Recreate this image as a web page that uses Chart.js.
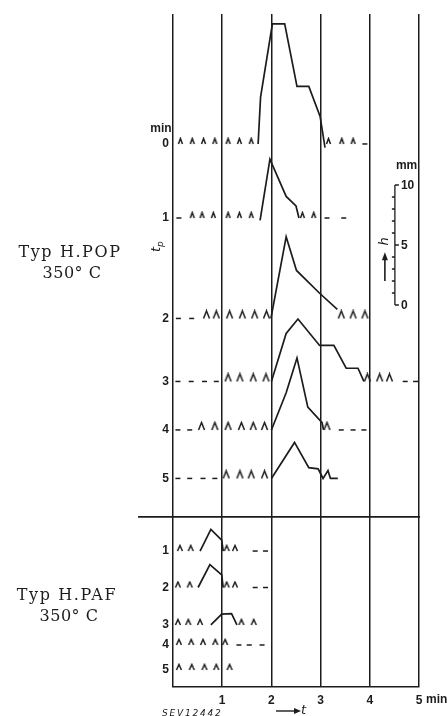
<!DOCTYPE html>
<html>
<head>
<meta charset="utf-8">
<script src="https://cdn.jsdelivr.net/npm/chart.js@4.4.1/dist/chart.umd.min.js"></script>
<style>
  html, body { margin: 0; padding: 0; background: #fff; }
  #wrap { width: 448px; height: 716px; }
</style>
</head>
<body>
<div id="wrap"><canvas id="grafico" width="448" height="716"></canvas></div>
<script>
// eje t (min)
const tTicks = [0, 1, 2, 3, 4, 5];
// escala h (mm)
const hTicks = [0, 5, 10];

// Typ H.POP 350 C, filas t_p = 0..5 min ; curvas [t, h]
const popLabels = ['0', '1', '2', '3', '4', '5'];
const popCurves = [
  [[1.73, 0], [1.78, 3.9], [2.02, 10.0], [2.27, 10.0], [2.52, 4.8], [2.76, 4.8], [2.99, 2.3], [3.09, -0.3]],
  [[1.77, -0.2], [1.97, 4.9], [2.30, 1.8], [2.50, 1.0], [2.56, 0]],
  [[1.99, 0], [2.30, 6.8], [2.51, 4.0], [2.98, 2.1], [3.34, 0.75]],
  [[2.0, 0], [2.30, 4.0], [2.54, 5.2], [2.98, 3.0], [3.27, 3.0], [3.52, 1.1], [3.76, 1.1], [3.88, 0]],
  [[2.0, 0], [2.30, 3.1], [2.52, 6.0], [2.74, 1.9], [3.03, 0.6], [3.06, 0]],
  [[2.0, 0], [2.47, 3.0], [2.76, 0.9], [2.95, 0.8], [3.05, 0], [3.15, 0.65], [3.2, 0], [3.35, 0]]
];
const popCarets = [
  [0.15, 0.39, 0.62, 0.85, 1.12, 1.35, 1.59, 3.16, 3.43, 3.66],
  [0.39, 0.59, 0.82, 1.12, 1.35, 1.59, 2.63, 2.86],
  [0.68, 0.88, 1.15, 1.41, 1.66, 1.90, 3.42, 3.66, 3.90],
  [1.12, 1.36, 1.63, 1.89, 3.95, 4.20, 4.40],
  [0.58, 0.85, 1.12, 1.39, 1.63, 1.86, 3.13],
  [1.08, 1.36, 1.59, 1.86]
];
const popDashes = [
  [3.90],
  [0.12, 3.13, 3.47],
  [0.11, 0.38],
  [0.10, 0.37, 0.64, 0.88, 4.72, 4.93],
  [0.10, 0.34, 3.42, 3.66, 3.88],
  [0.10, 0.34, 0.61, 0.85]
];

// Typ H.PAF 350 C
const pafLabels = ['1', '2', '3', '4', '5'];
const pafCurves = [
  [[0.55, 0], [0.77, 1.8], [0.99, 0.9], [1.02, 0]],
  [[0.51, 0], [0.75, 1.9], [0.99, 1.05], [1.02, 0]],
  [[0.77, 0], [0.99, 0.9], [1.19, 0.95], [1.30, 0]],
  [],
  []
];
const pafCarets = [
  [0.14, 0.36, 1.09, 1.26],
  [0.10, 0.34, 1.09, 1.26],
  [0.10, 0.31, 0.55, 1.39, 1.64],
  [0.12, 0.37, 0.61, 0.86, 1.06],
  [0.12, 0.38, 0.64, 0.88, 1.15]
];
const pafDashes = [
  [1.67, 1.88],
  [1.67, 1.88],
  [],
  [1.34, 1.55, 1.81],
  []
];

// posicion vertical de cada fila (mm desde abajo) - solo maquetacion
const popBase = [45.25, 39.08, 30.71, 25.46, 21.42, 17.38];
const pafBase = [11.33, 8.29, 5.17, 3.5, 1.42];
const separador = 14.17;
const reglaBase = 31.83;
const reglaT = 4.51;
const yMax = 56.08;

const tinta = '#1c1c1c';

function hacerCaret(w, h) {
  const c = document.createElement('canvas');
  c.width = w + 3;
  c.height = 2 * h + 2;
  const g = c.getContext('2d');
  g.strokeStyle = tinta;
  g.lineWidth = 1.5;
  g.beginPath();
  g.moveTo(1.5, h + 1);
  g.lineTo(1.5 + w / 2, 1.5);
  g.lineTo(1.5 + w, h + 1);
  g.stroke();
  return c;
}

const caretChico = hacerCaret(4, 6);
const caretGrande = hacerCaret(6, 8);
const caretPaf = hacerCaret(5, 6);

const datasets = [];

function agregarFila(base, curva, carets, guiones, img) {
  if (curva.length) {
    datasets.push({
      data: curva.map(p => ({ x: p[0], y: base + p[1] })),
      showLine: true, pointRadius: 0, borderColor: tinta, borderWidth: 1.7
    });
  }
  datasets.push({
    data: carets.map(t => ({ x: t, y: base })),
    showLine: false, pointStyle: img, pointRadius: 3
  });
  datasets.push({
    data: guiones.map(t => ({ x: t, y: base })),
    showLine: false, pointStyle: 'line', pointRadius: 2.5,
    borderColor: tinta, borderWidth: 1.5
  });
}

popCurves.forEach((c, i) => agregarFila(popBase[i], c, popCarets[i], popDashes[i], i < 2 ? caretChico : caretGrande));
pafCurves.forEach((c, i) => agregarFila(pafBase[i], c, pafCarets[i], pafDashes[i], caretPaf));

const yBases = [...popBase, ...pafBase];
const yLabels = [...popLabels, ...pafLabels];

const anotaciones = {
  id: 'anotaciones',
  afterDraw(chart) {
    const ctx = chart.ctx;
    const x = chart.scales.x, y = chart.scales.y;
    ctx.save();
    ctx.strokeStyle = tinta;
    ctx.fillStyle = tinta;

    // linea que separa los dos tipos
    ctx.lineWidth = 1.8;
    ctx.beginPath();
    ctx.moveTo(x.getPixelForValue(-0.71), y.getPixelForValue(separador));
    ctx.lineTo(x.getPixelForValue(5.02), y.getPixelForValue(separador));
    ctx.stroke();

    // regla h (mm)
    const rx = x.getPixelForValue(reglaT);
    const y0 = y.getPixelForValue(reglaBase);
    const y10 = y.getPixelForValue(reglaBase + 10);
    ctx.lineWidth = 1.3;
    ctx.beginPath();
    ctx.moveTo(rx, y0);
    ctx.lineTo(rx, y10);
    for (let mm = 0; mm <= 10; mm++) {
      const py = y.getPixelForValue(reglaBase + mm);
      if (hTicks.includes(mm)) {
        ctx.moveTo(rx, py);
        ctx.lineTo(rx + 4, py);
      } else {
        ctx.moveTo(rx - 3, py);
        ctx.lineTo(rx, py);
      }
    }
    ctx.stroke();
    ctx.font = 'bold 12px "Liberation Sans"';
    ctx.textAlign = 'left';
    ctx.textBaseline = 'middle';
    hTicks.forEach(v => ctx.fillText(String(v), rx + 6, y.getPixelForValue(reglaBase + v) + 1));
    ctx.fillText('mm', rx + 1, y10 - 19);

    // h con flecha
    ctx.save();
    ctx.translate(rx - 10, y.getPixelForValue(reglaBase + 5.3));
    ctx.rotate(-Math.PI / 2);
    ctx.font = 'italic 13px "DejaVu Sans"';
    ctx.textAlign = 'center';
    ctx.fillText('h', 0, 0);
    ctx.restore();
    const ax = rx - 10;
    ctx.lineWidth = 1.6;
    ctx.beginPath();
    ctx.moveTo(ax, y.getPixelForValue(reglaBase + 2.0));
    ctx.lineTo(ax, y.getPixelForValue(reglaBase + 3.8));
    ctx.stroke();
    ctx.beginPath();
    const ap = y.getPixelForValue(reglaBase + 4.4);
    ctx.moveTo(ax, ap);
    ctx.lineTo(ax - 3, ap + 8);
    ctx.lineTo(ax + 3, ap + 8);
    ctx.closePath();
    ctx.fill();

    // min arriba y t_p
    ctx.font = 'bold 12px "Liberation Sans"';
    ctx.textAlign = 'center';
    ctx.fillText('min', 161, 129);
    ctx.save();
    ctx.translate(157, 247);
    ctx.rotate(-Math.PI / 2);
    ctx.font = 'italic 13px "DejaVu Sans"';
    ctx.textAlign = 'left';
    ctx.fillText('t', -5, 0);
    ctx.font = 'italic 9px "DejaVu Sans"';
    ctx.fillText('p', 0, 4);
    ctx.restore();

    // 'min' del eje t
    ctx.font = 'bold 12px "Liberation Sans"';
    ctx.textAlign = 'left';
    ctx.fillText('min', x.getPixelForValue(5) + 7, 700);

    // flecha t
    ctx.lineWidth = 1.4;
    ctx.beginPath();
    ctx.moveTo(276, 711);
    ctx.lineTo(295, 711);
    ctx.stroke();
    ctx.beginPath();
    ctx.moveTo(301, 711);
    ctx.lineTo(294, 708);
    ctx.lineTo(294, 714);
    ctx.closePath();
    ctx.fill();
    ctx.font = 'italic 13px "DejaVu Sans"';
    ctx.fillText('t', 301, 711);

    ctx.font = 'italic 9px "DejaVu Sans"';
    ctx.letterSpacing = '1.8px';
    ctx.fillText('SEV12442', 162, 714);

    // rotulos de la izquierda
    ctx.font = '16px "DejaVu Serif"';
    ctx.textAlign = 'center';
    ctx.textBaseline = 'alphabetic';
    ctx.letterSpacing = '1.6px';
    ctx.fillText('Typ H.POP', 70, 257);
    ctx.fillText('Typ H.PAF', 67, 600);
    ctx.letterSpacing = '0.5px';
    ctx.fillText('350\u00b0 C', 72, 278);
    ctx.fillText('350\u00b0 C', 69, 621);
    ctx.restore();
  }
};

new Chart(document.getElementById('grafico'), {
  type: 'scatter',
  data: { datasets },
  options: {
    responsive: false,
    devicePixelRatio: 1,
    animation: false,
    layout: { padding: { top: 14, right: 29, left: 0, bottom: 0 } },
    plugins: { legend: { display: false }, tooltip: { enabled: false } },
    elements: { point: { borderColor: tinta, backgroundColor: tinta }, line: { tension: 0 } },
    scales: {
      x: {
        type: 'linear', min: 0, max: 5,
        afterBuildTicks: s => { s.ticks = tTicks.map(v => ({ value: v })); },
        afterFit: s => { s.height = 29; },
        grid: { color: tinta, lineWidth: 1.5, drawTicks: false },
        border: { color: tinta, width: 1.5 },
        ticks: {
          padding: 6, color: tinta,
          font: { family: 'Liberation Sans', weight: 'bold', size: 12 },
          callback: v => (v === 0 ? '' : String(v))
        }
      },
      y: {
        type: 'linear', min: 0, max: yMax,
        afterBuildTicks: s => { s.ticks = yBases.map(v => ({ value: v })); },
        afterFit: s => { s.width = 173; },
        grid: { display: false, drawTicks: false },
        border: { display: false },
        ticks: {
          autoSkip: false, padding: 4, color: tinta,
          font: { family: 'Liberation Sans', weight: 'bold', size: 12 },
          callback: (v, i) => yLabels[i]
        }
      }
    }
  },
  plugins: [anotaciones]
});
</script>
</body>
</html>
